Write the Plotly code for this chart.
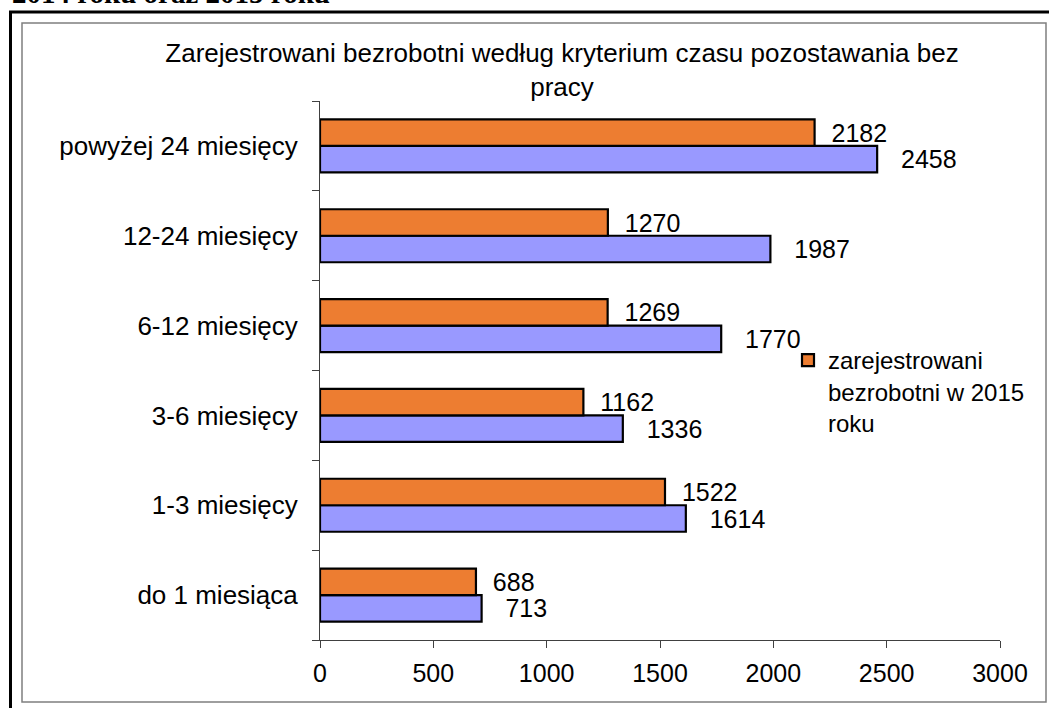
import plotly.graph_objects as go

categories = ["do 1 miesiąca", "1-3 miesięcy", "3-6 miesięcy",
              "6-12 miesięcy", "12-24 miesięcy", "powyżej 24 miesięcy"]
values_2014 = [713, 1614, 1336, 1770, 1987, 2458]
values_2015 = [688, 1522, 1162, 1269, 1270, 2182]
x_ticks = [0, 500, 1000, 1500, 2000, 2500, 3000]

title_text = "Zarejestrowani bezrobotni według kryterium czasu pozostawania bez<br>pracy"
legend_2015 = "zarejestrowani<br>bezrobotni w 2015<br>roku"
legend_2014 = "zarejestrowani<br>bezrobotni w 2014<br>roku"
header_text = "2014 roku oraz 2015 roku"

W, H = 1049, 708
L, R, T, B = 320, 49, 101, 68
PW, PH = W - L - R, H - T - B


def px_x(p):
    return (p - L) / PW


def px_y(p):
    return (H - B - p) / PH


FONT = "Liberation Sans, Arial, sans-serif"
NB = "\u00a0"

fig = go.Figure()
fig.add_trace(go.Bar(
    y=categories, x=values_2014, orientation="h", name=legend_2014,
    marker=dict(color="#9999FF", line=dict(color="black", width=2.2)),
    text=[NB * 3 + str(v) for v in values_2014], textposition="outside",
    textfont=dict(size=25, color="black", family=FONT),
    constraintext="none", cliponaxis=False, showlegend=False,
))
fig.add_trace(go.Bar(
    y=categories, x=values_2015, orientation="h", name=legend_2015,
    marker=dict(color="#ED7D31", line=dict(color="black", width=2.2)),
    text=[NB * 2 + str(v) for v in values_2015], textposition="outside",
    textfont=dict(size=25, color="black", family=FONT),
    constraintext="none", cliponaxis=False,
))

fig.update_layout(
    width=W, height=H,
    margin=dict(l=L, r=R, t=T, b=B),
    paper_bgcolor="white", plot_bgcolor="white",
    font=dict(family=FONT, size=25, color="black"),
    barmode="group", bargap=0.41, bargroupgap=0,
    title=dict(text=title_text, xref="container", x=562 / W, xanchor="center",
               yref="container", y=1 - 62 / H, yanchor="top",
               font=dict(size=26, color="black", family=FONT)),
    legend=dict(x=px_x(788), xanchor="left", y=px_y(338), yanchor="top",
                valign="top", bgcolor="rgba(0,0,0,0)",
                font=dict(size=24, color="black", family=FONT)),
    xaxis=dict(range=[0, 3000], tickvals=x_ticks, showgrid=False, zeroline=False,
               showline=True, linecolor="#404040", linewidth=1,
               ticks="outside", ticklen=7, tickcolor="#404040",
               ticklabelstandoff=4,
               tickfont=dict(size=25, color="black", family=FONT)),
    yaxis=dict(categoryorder="array", categoryarray=categories,
               showgrid=False, zeroline=False,
               showline=True, linecolor="#404040", linewidth=1,
               ticks="outside", ticklen=7, tickcolor="#404040",
               tickson="boundaries", ticklabelstandoff=16,
               tickfont=dict(size=26, color="black", family=FONT)),
    showlegend=True,
)

# outer frame and inner chart area border
fig.add_shape(type="rect", xref="paper", yref="paper",
              x0=px_x(10.5), x1=px_x(1075), y0=px_y(12), y1=px_y(730),
              line=dict(color="black", width=3), layer="below")
fig.add_shape(type="rect", xref="paper", yref="paper",
              x0=px_x(22), x1=px_x(1046), y0=px_y(23), y1=px_y(702),
              line=dict(color="#7f7f7f", width=1.5), layer="below")

# heading of the page, cut off above the chart
fig.add_annotation(text="<b>" + header_text + "</b>", xref="paper", yref="paper",
                   x=px_x(10), xanchor="left", y=px_y(11), yanchor="bottom",
                   showarrow=False,
                   font=dict(family="Liberation Serif, Times New Roman, serif",
                             size=29, color="black"))

# page without the default body margin, so the figure sits at the window corner
fig.write_html("out.html", config={"displayModeBar": False},
               post_script="document.body.style.margin = '0';")
